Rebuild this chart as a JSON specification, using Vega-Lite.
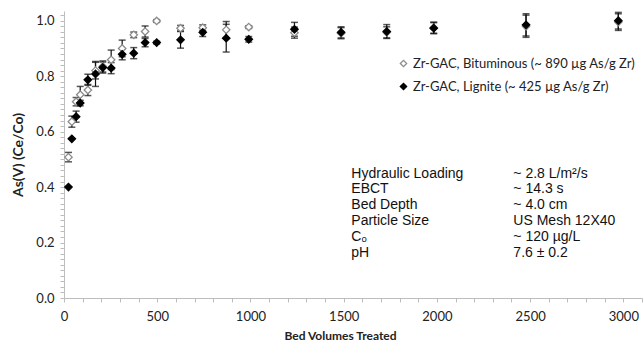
{
  "$schema": "https://vega.github.io/schema/vega-lite/v6.json",
  "autosize": "none",
  "width": 578,
  "height": 287,
  "padding": {"left": 64, "top": 11, "right": 1, "bottom": 47},
  "background": "white",
  "config": {
    "view": {"stroke": null},
    "font": "Lato",
    "axis": {"grid": false, "domainColor": "#bdbdbd", "tickColor": "#bdbdbd", "labelColor": "#222", "titleColor": "#222", "labelFont": "Lato", "titleFont": "Lato"}
  },
  "resolve": {"axis": {"x": "independent", "y": "independent"}},
  "data": {
    "values": [
      {"series": "Bituminous", "bv": 24, "c": 0.508, "err": 0.017},
      {"series": "Bituminous", "bv": 42, "c": 0.636, "err": 0.02},
      {"series": "Bituminous", "bv": 65, "c": 0.708, "err": 0.015},
      {"series": "Bituminous", "bv": 87, "c": 0.733, "err": 0.03},
      {"series": "Bituminous", "bv": 128, "c": 0.75, "err": 0.02},
      {"series": "Bituminous", "bv": 169, "c": 0.82, "err": 0.03},
      {"series": "Bituminous", "bv": 208, "c": 0.835, "err": 0.02},
      {"series": "Bituminous", "bv": 253, "c": 0.859, "err": 0.035},
      {"series": "Bituminous", "bv": 312, "c": 0.9, "err": 0.03},
      {"series": "Bituminous", "bv": 374, "c": 0.949, "err": 0.01},
      {"series": "Bituminous", "bv": 435, "c": 0.961, "err": 0.02},
      {"series": "Bituminous", "bv": 497, "c": 0.999, "err": 0.005},
      {"series": "Bituminous", "bv": 625, "c": 0.973, "err": 0.01},
      {"series": "Bituminous", "bv": 744, "c": 0.975, "err": 0.01},
      {"series": "Bituminous", "bv": 870, "c": 0.967, "err": 0.03},
      {"series": "Bituminous", "bv": 991, "c": 0.977, "err": 0.005},
      {"series": "Bituminous", "bv": 1236, "c": 0.957, "err": 0.02},
      {"series": "Bituminous", "bv": 1486, "c": 0.955, "err": 0.02},
      {"series": "Bituminous", "bv": 1731, "c": 0.958, "err": 0.02},
      {"series": "Bituminous", "bv": 1983, "c": 0.975, "err": 0.02},
      {"series": "Bituminous", "bv": 2478, "c": 0.98, "err": 0.04},
      {"series": "Bituminous", "bv": 2973, "c": 0.995, "err": 0.03},
      {"series": "Lignite", "bv": 24, "c": 0.4, "err": 0},
      {"series": "Lignite", "bv": 42, "c": 0.574, "err": 0},
      {"series": "Lignite", "bv": 65, "c": 0.654, "err": 0.02},
      {"series": "Lignite", "bv": 87, "c": 0.703, "err": 0.01},
      {"series": "Lignite", "bv": 128, "c": 0.787, "err": 0.02},
      {"series": "Lignite", "bv": 169, "c": 0.808, "err": 0.045},
      {"series": "Lignite", "bv": 208, "c": 0.831, "err": 0.02},
      {"series": "Lignite", "bv": 253, "c": 0.829, "err": 0.02},
      {"series": "Lignite", "bv": 312, "c": 0.879, "err": 0.02},
      {"series": "Lignite", "bv": 374, "c": 0.883, "err": 0.02},
      {"series": "Lignite", "bv": 435, "c": 0.921, "err": 0.015},
      {"series": "Lignite", "bv": 497, "c": 0.921, "err": 0.005},
      {"series": "Lignite", "bv": 625, "c": 0.931, "err": 0.03},
      {"series": "Lignite", "bv": 744, "c": 0.958, "err": 0.015},
      {"series": "Lignite", "bv": 870, "c": 0.937, "err": 0.05},
      {"series": "Lignite", "bv": 991, "c": 0.933, "err": 0.01},
      {"series": "Lignite", "bv": 1236, "c": 0.969, "err": 0.025},
      {"series": "Lignite", "bv": 1486, "c": 0.958, "err": 0.02},
      {"series": "Lignite", "bv": 1731, "c": 0.961, "err": 0.025},
      {"series": "Lignite", "bv": 1983, "c": 0.973, "err": 0.02},
      {"series": "Lignite", "bv": 2478, "c": 0.985, "err": 0.04},
      {"series": "Lignite", "bv": 2973, "c": 1.0, "err": 0.03}
    ]
  },
  "layer": [
    {
      "encoding": {
        "x": {"field": "bv", "type": "quantitative", "scale": {"domain": [0, 3100], "nice": false}, "axis": {
          "values": [0,100,200,300,400,500,600,700,800,900,1000,1100,1200,1300,1400,1500,1600,1700,1800,1900,2000,2100,2200,2300,2400,2500,2600,2700,2800,2900,3000,3100],
          "labelExpr": "datum.value % 500 == 0 ? format(datum.value, 'd') : ''",
          "labelOverlap": false, "labelFlush": false, "labelBound": false,
          "tickSize": 4, "labelPadding": 8, "labelFontSize": 13,
          "title": "Bed Volumes Treated", "titleFontSize": 12, "titleFontWeight": "bold", "titlePadding": 7, "titleX": 276
        }},
        "y": {"field": "c", "type": "quantitative", "scale": {"domain": [0, 1.035], "nice": false}, "axis": {
          "values": [0,0.02,0.04,0.06,0.08,0.1,0.12,0.14,0.16,0.18,0.2,0.22,0.24,0.26,0.28,0.3,0.32,0.34,0.36,0.38,0.4,0.42,0.44,0.46,0.48,0.5,0.52,0.54,0.56,0.58,0.6,0.62,0.64,0.66,0.68,0.7,0.72,0.74,0.76,0.78,0.8,0.82,0.84,0.86,0.88,0.9,0.92,0.94,0.96,0.98,1.0,1.02],
          "labelExpr": "round(datum.value * 100) % 20 == 0 ? format(datum.value, '.1f') : ''",
          "labelOverlap": false, "labelFlush": false, "labelBound": false,
          "tickSize": 4, "labelPadding": 6, "labelFontSize": 13,
          "title": "As(V)  (Ce/Co)", "titleFontSize": 14, "titleFontWeight": "bold", "titlePadding": 10
        }}
      },
      "layer": [
        {
          "transform": [{"filter": "datum.err > 0"}],
          "mark": {"type": "errorbar", "color": "#111", "thickness": 1.2, "ticks": {"size": 7, "thickness": 1.5, "color": "#111"}},
          "encoding": {"yError": {"field": "err"}}
        },
        {
          "mark": {"type": "point", "shape": "diamond", "size": 55, "strokeWidth": 1.3, "opacity": 1},
          "encoding": {
            "shape": {"field": "series", "type": "nominal", "scale": {"domain": ["Bituminous", "Lignite"], "range": ["diamond", "diamond"]}, "legend": {
              "orient": "none", "legendX": 333, "legendY": 46, "padding": 0, "rowPadding": 9, "labelFontSize": 13, "labelFont": "Lato", "labelColor": "#222", "labelLimit": 400, "symbolSize": 40, "symbolStrokeWidth": 1.3, "title": null,
              "labelExpr": "datum.value == 'Bituminous' ? 'Zr-GAC, Bituminous (~ 890 µg As/g Zr)' : 'Zr-GAC, Lignite (~ 425 µg As/g Zr)'",
              "labelOffset": 3
            }},
            "fill": {"field": "series", "type": "nominal", "scale": {"domain": ["Bituminous", "Lignite"], "range": ["white", "black"]}, "legend": null},
            "stroke": {"field": "series", "type": "nominal", "scale": {"domain": ["Bituminous", "Lignite"], "range": ["#8c8c8c", "black"]}, "legend": null},
            "order": {"field": "series", "sort": "ascending"}
          }
        }
      ]
    },
    {
      "data": {"values": [
        {"k": "Hydraulic Loading", "v": "~ 2.8 L/m²/s", "row": 0.448},
        {"k": "EBCT", "v": "~ 14.3 s", "row": 0.392},
        {"k": "Bed Depth", "v": "~ 4.0 cm", "row": 0.335},
        {"k": "Particle Size", "v": "US Mesh 12X40", "row": 0.278},
        {"k": "Cₒ", "v": "~ 120 µg/L", "row": 0.221},
        {"k": "pH", "v": "7.6 ± 0.2", "row": 0.164}
      ]},
      "layer": [
        {
          "mark": {"type": "text", "align": "left", "baseline": "middle", "font": "Liberation Sans", "fontSize": 14, "color": "#111"},
          "encoding": {"x": {"datum": 1541, "type": "quantitative", "axis": null}, "y": {"field": "row", "type": "quantitative", "axis": null}, "text": {"field": "k"}}
        },
        {
          "mark": {"type": "text", "align": "left", "baseline": "middle", "font": "Liberation Sans", "fontSize": 14, "color": "#111"},
          "encoding": {"x": {"datum": 2410, "type": "quantitative", "axis": null}, "y": {"field": "row", "type": "quantitative", "axis": null}, "text": {"field": "v"}}
        }
      ]
    }
  ]
}
